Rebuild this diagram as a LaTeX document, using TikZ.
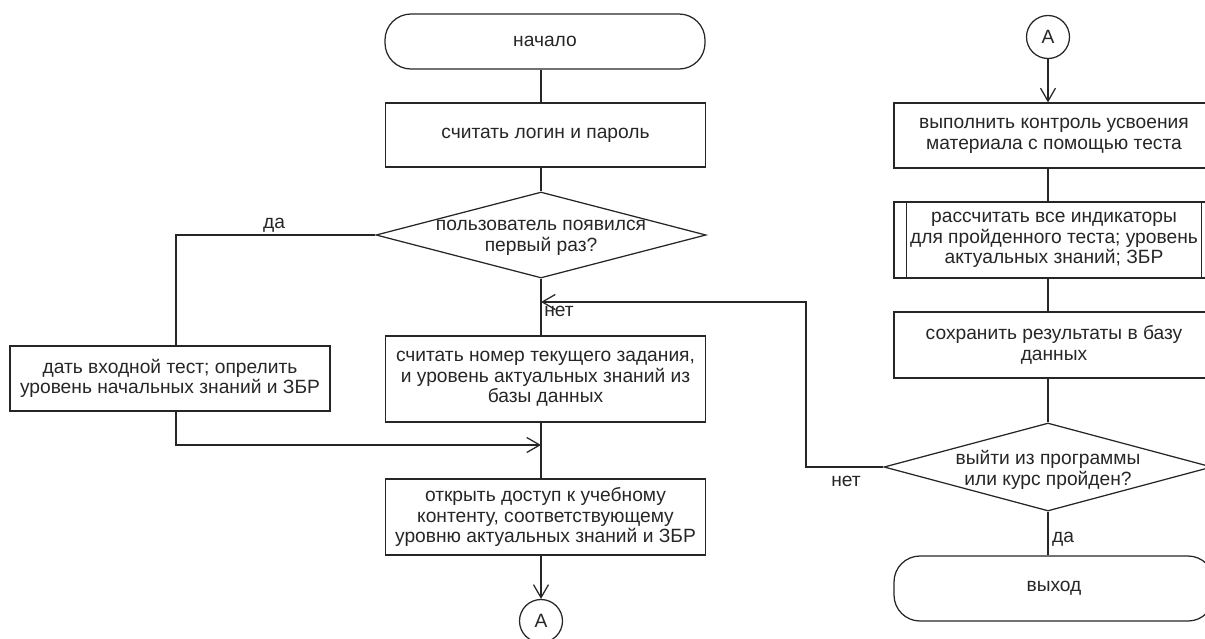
\documentclass[tikz,border=0pt]{standalone}
\usepackage{fontspec}
\setmainfont{Liberation Sans}
\usetikzlibrary{arrows.meta,shapes.geometric,calc}
\begin{document}
\begin{tikzpicture}[x=1pt,y=-1pt,
  every node/.style={font=\fontsize{19.2pt}{20.7pt}\selectfont, text=black!85},
  ln/.style={draw=black!85, line width=1.25pt},
  box/.style={ln, rectangle, minimum width=320pt, inner sep=0pt, align=center},
  term/.style={box, rounded corners=26pt},
  dia/.style={ln, diamond, inner sep=0pt},
  conn/.style={ln, circle, minimum size=43pt, inner sep=0pt},
  flow/.style={line width=1.25pt, draw=black!85},
  arr/.style={flow, -{Straight Barb[length=13pt,width=15pt]}},
  lbl/.style={inner sep=0pt, align=center}
]
\useasboundingbox (0,0) rectangle (1205,638);

\coordinate (cx) at (541,0);
\coordinate (lx) at (176,0);
\coordinate (rx) at (1048,0);
\coordinate (ry) at (806,0);
\coordinate (m1) at (541,445);
\coordinate (m2) at (541,302);

% left / centre column
\node[term, minimum height=55pt] (start) at (545,41.5) {начало};
\node[box, minimum height=64pt] (login) at (545.5,135) {считать логин и пароль};
\node[dia, minimum width=330pt, minimum height=86pt] (d1) at (541,235) {};
\node[lbl] (d1t) at (541,238) {пользователь появился\\первый раз?};
\node[box, minimum height=65pt] (first) at (170,378.5) {дать входной тест; опрелить\\уровень начальных знаний и ЗБР};
\node[box, minimum height=86pt] (read) at (545.5,379) {считать номер текущего задания,\\и уровень актуальных знаний из\\базы данных};
\node[box, minimum height=76pt] (open) at (545.5,517) {открыть доступ к учебному\\контенту, соответствующему\\уровню актуальных знаний и ЗБР};
\node[conn] (a1) at (541,621) {A};

% right column
\node[conn] (a2) at (1048,37) {A};
\node[box, minimum height=65pt] (ctrl) at (1054,135.5) {выполнить контроль усвоения\\материала с помощью теста};
\node[box, minimum height=76pt] (calc) at (1054,240) {рассчитать все индикаторы\\для пройденного теста; уровень\\актуальных знаний; ЗБР};
\draw[ln] ([xshift=13pt]calc.north west) -- ([xshift=13pt]calc.south west);
\draw[ln] ([xshift=-13pt]calc.north east) -- ([xshift=-13pt]calc.south east);
\node[box, minimum height=66pt] (save) at (1054,345) {сохранить результаты в базу\\данных};
\node[dia, minimum width=328pt, minimum height=88pt] (d2) at (1048,467) {};
\node[lbl] (d2t) at (1048,470) {выйти из программы\\или курс пройден?};
\node[term, minimum height=65pt] (exit) at (1054,588.5) {выход};

% labels
\node[lbl] (yes1) at (274,225) {да};
\node[lbl] (no1) at (559,311) {нет};
\node[lbl] (no2) at (846,481) {нет};
\node[lbl] (yes2) at (1063,539) {да};

% connectors
\draw[flow] (start.south -| cx) -- (login.north -| cx);
\draw[flow] (login.south -| cx) -- (d1.north);
\draw[flow] (d1.west) -| (first.north -| lx);
\draw[flow] (d1.south) -- (read.north -| cx);
\draw[flow] (read.south -| cx) -- (open.north -| cx);
\draw[arr] (first.south -| lx) |- (m1);
\draw[arr] (d2.west) -| (ry |- m2) -- (m2);
\draw[arr] (open.south -| cx) -- (a1);
\draw[arr] (a2) -- (ctrl.north -| rx);
\draw[flow] (ctrl.south -| rx) -- (calc.north -| rx);
\draw[flow] (calc.south -| rx) -- (save.north -| rx);
\draw[flow] (save.south -| rx) -- (d2.north);
\draw[flow] (d2.south) -- (exit.north -| rx);
\end{tikzpicture}
\end{document}
